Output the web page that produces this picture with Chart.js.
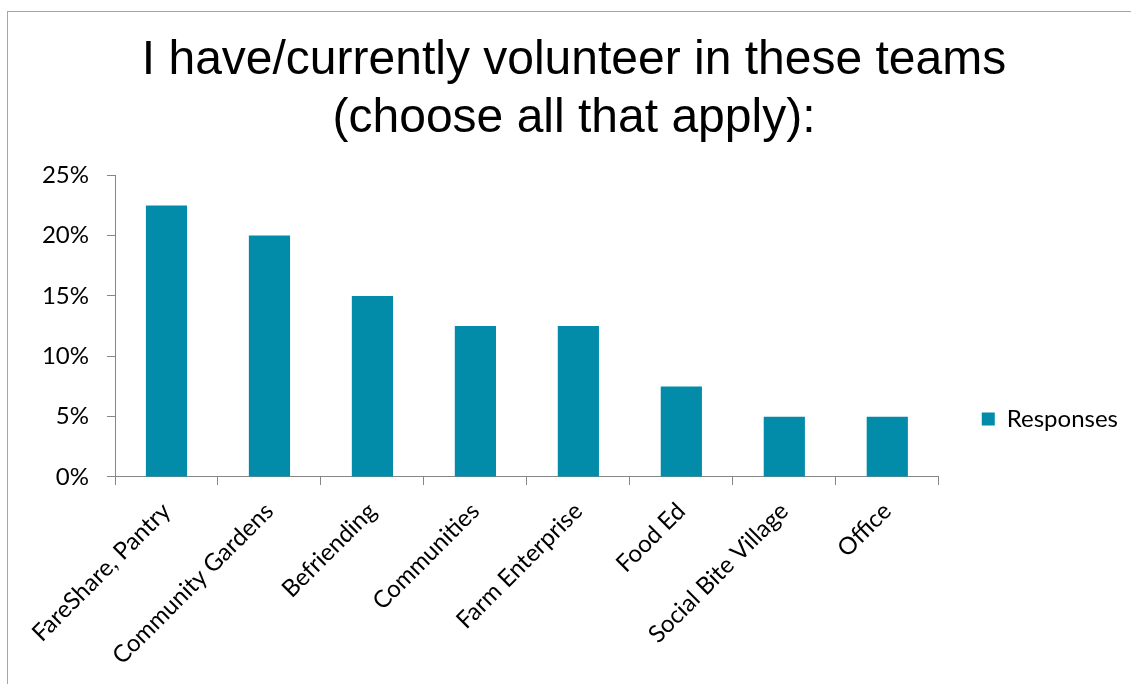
<!DOCTYPE html>
<html>
<head>
<meta charset="utf-8">
<script src="https://cdn.jsdelivr.net/npm/chart.js@4"></script>
<style>
  body { margin: 0; background: #fff; overflow: hidden; }
  #frame { position: absolute; left: 7px; top: 11px; width: 1200px; height: 800px; border: 1px solid #a6a6a6; }
  #myChart { position: absolute; left: 0; top: 0; }
</style>
</head>
<body>
<div id="frame"></div>
<!-- canvas runs past the window on the right and bottom so the title and legend sit where the slide had them -->
<canvas id="myChart" width="1148" height="838"></canvas>
<script>
const teams = ['FareShare, Pantry', 'Community Gardens', 'Befriending', 'Communities', 'Farm Enterprise', 'Food Ed', 'Social Bite Village', 'Office'];
const responses = [22.5, 20, 15, 12.5, 12.5, 7.5, 5, 5];
const titleLines = ['I have/currently volunteer in these teams', '(choose all that apply):'];
const seriesName = 'Responses';
const yMax = 25;
const yStep = 5;

const barColor = '#028CAA';
const axisColor = '#868686';
const labelFont = { family: 'Lato', size: 24 };

const ctx = document.getElementById('myChart').getContext('2d');
const data = {
    labels: teams,
    datasets: [
        {
            label: seriesName,
            data: responses,
            backgroundColor: barColor,
            borderWidth: 0,
            categoryPercentage: 1,
            barPercentage: 0.4
        }
    ]
};

const config = {
    type: 'bar',
    data: data,
    options: {
        responsive: false,
        animation: false,
        devicePixelRatio: 1,
        layout: { padding: { left: 20, right: 20, top: 0, bottom: 0 } },
        plugins: {
            title: {
                display: true,
                text: titleLines,
                color: '#000',
                font: { family: 'Liberation Sans', size: 48, weight: 'normal', lineHeight: 1.2 },
                padding: { top: 32, bottom: 28 }
            },
            legend: {
                position: 'right',
                labels: {
                    color: '#000',
                    font: labelFont,
                    boxWidth: 13,
                    boxHeight: 13,
                    padding: 43
                }
            },
            tooltip: { enabled: false }
        },
        scales: {
            x: {
                grid: { drawOnChartArea: false, color: axisColor, tickLength: 8, offset: true },
                border: { color: axisColor },
                ticks: { color: '#000', font: labelFont, minRotation: 45, maxRotation: 45, autoSkip: false, padding: 12 },
                afterFit: axis => { axis.height = 361; }
            },
            y: {
                min: 0,
                max: yMax,
                grid: { drawOnChartArea: false, color: axisColor, tickLength: 8 },
                border: { color: axisColor },
                ticks: { stepSize: yStep, color: '#000', font: labelFont, padding: 18, callback: v => v + '%' },
                afterFit: axis => { axis.width = 95; }
            }
        }
    }
};

Chart.defaults.color = '#000';
const teamsChart = new Chart(ctx, config);
</script>
</body>
</html>
